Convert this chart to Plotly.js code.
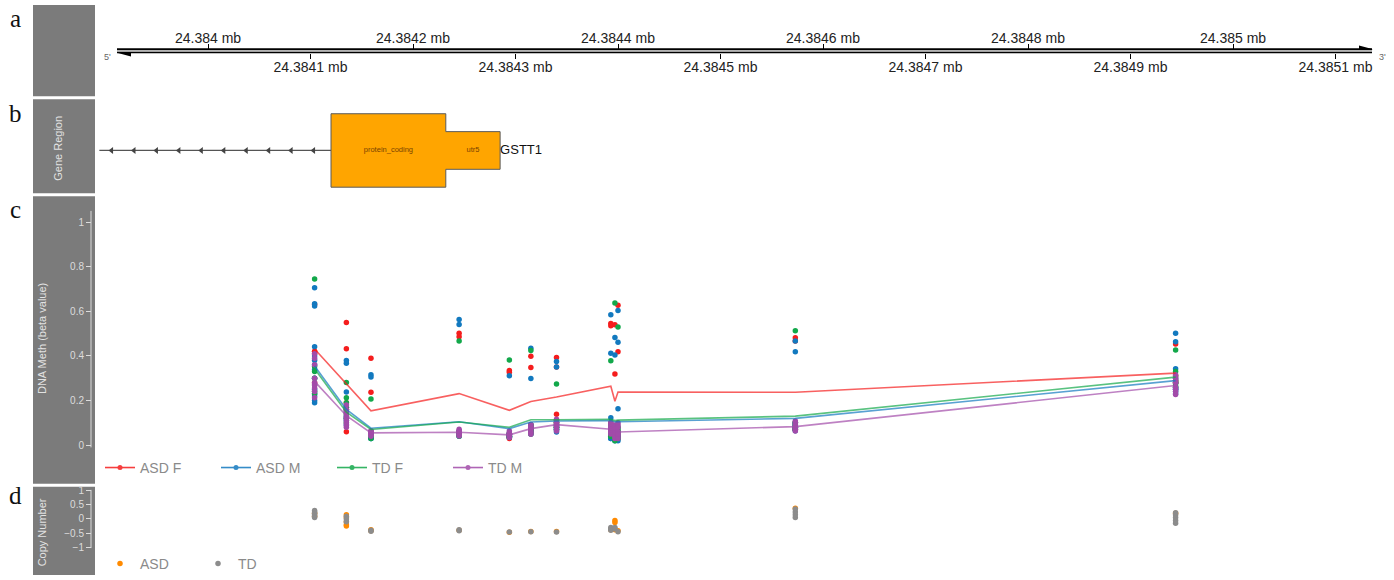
<!DOCTYPE html>
<html><head><meta charset="utf-8">
<script src="https://cdn.plot.ly/plotly-3.0.1.min.js"></script>
<style>html,body{margin:0;padding:0;background:#fff;}#chart{width:1394px;height:580px;}</style>
</head><body><div id="chart"></div>
<script>
// ---------------- data ----------------
const cpgPos = [24384104,24384135,24384159,24384245,24384294,24384315,24384340,24384393,24384397,24384400,24384573,24384944];
const groupNames = ['ASD F','ASD M','TD F','TD M'];
const groupColors = ['#f51d1d','#1279bf','#12a84a','#a24ba9'];
const meanASDF = [0.431,0.275,0.154,0.231,0.156,0.196,0.216,0.264,0.197,0.238,0.237,0.323];
const meanASDM = [0.355,0.160,0.076,0.105,0.074,0.104,0.108,0.110,0.105,0.105,0.120,0.289];
const meanTDF  = [0.342,0.148,0.070,0.104,0.080,0.114,0.114,0.116,0.110,0.112,0.130,0.305];
const meanTDM  = [0.286,0.132,0.055,0.058,0.046,0.074,0.092,0.071,0.059,0.059,0.083,0.267];
const ptsASDF = [[0.63,0.42,0.41,0.28,0.42],[0.55,0.432,0.19,0.16,0.06],[0.39,0.237,0.06,0.05,0.04],[0.501,0.486,0.06,0.05,0.05],[0.335,0.327,0.05,0.04,0.03],[0.399,0.348,0.09,0.08,0.06],[0.393,0.35,0.138,0.10,0.10],[0.545,0.535,0.05,0.10,0.09],[0.54,0.319,0.05,0.04,0.035],[0.627,0.419,0.06,0.05,0.035],[0.481,0.467,0.10,0.07,0.07],[0.453,0.31,0.29,0.28,0.28]];
const ptsASDM = [[0.705,0.634,0.624,0.441,0.40,0.38,0.36,0.338,0.30,0.25,0.19,0.20,0.22,0.23],[0.379,0.367,0.238,0.17,0.15,0.13,0.11,0.09,0.16,0.12],[0.315,0.305,0.05,0.04,0.035,0.03,0.045,0.04,0.05,0.03],[0.563,0.541,0.06,0.05,0.05,0.045,0.04,0.05,0.06,0.055],[0.311,0.05,0.045,0.04,0.035,0.04,0.05,0.045,0.04,0.035],[0.434,0.299,0.09,0.08,0.07,0.06,0.05,0.07,0.08,0.06],[0.375,0.35,0.10,0.09,0.08,0.07,0.059,0.08,0.09,0.07],[0.585,0.412,0.123,0.06,0.05,0.04,0.03,0.05,0.04,0.03],[0.483,0.404,0.06,0.05,0.04,0.03,0.02,0.04,0.05,0.03],[0.604,0.461,0.163,0.06,0.05,0.04,0.03,0.05,0.02,0.04],[0.467,0.419,0.10,0.09,0.08,0.07,0.065,0.08,0.09,0.10],[0.502,0.464,0.342,0.30,0.28,0.26,0.25,0.24,0.23,0.25]];
const ptsTDF = [[0.745,0.352,0.33,0.30,0.241,0.23,0.27],[0.281,0.212,0.19,0.17,0.14,0.12,0.10],[0.207,0.06,0.05,0.045,0.04,0.05,0.03],[0.467,0.06,0.05,0.045,0.05,0.055,0.04],[0.382,0.05,0.045,0.04,0.035,0.04,0.05],[0.424,0.09,0.08,0.07,0.06,0.05,0.07],[0.274,0.11,0.10,0.09,0.08,0.07,0.08],[0.378,0.09,0.08,0.06,0.05,0.04,0.04],[0.637,0.06,0.05,0.04,0.03,0.02,0.04],[0.53,0.08,0.07,0.06,0.05,0.04,0.03],[0.513,0.10,0.09,0.085,0.08,0.07,0.075],[0.427,0.33,0.31,0.29,0.28,0.27,0.26]];
const ptsTDM = [[0.41,0.39,0.36,0.30,0.28,0.256,0.212,0.24,0.27],[0.18,0.16,0.15,0.14,0.13,0.12,0.11,0.10,0.09,0.08],[0.064,0.06,0.055,0.05,0.045,0.04,0.05,0.06],[0.071,0.065,0.06,0.055,0.05,0.045,0.041,0.06],[0.063,0.055,0.05,0.045,0.04,0.034,0.045,0.05],[0.093,0.085,0.08,0.075,0.07,0.06,0.055,0.049],[0.116,0.11,0.10,0.09,0.085,0.08,0.07,0.063],[0.10,0.09,0.08,0.07,0.06,0.05,0.06,0.07],[0.09,0.08,0.07,0.06,0.05,0.04,0.03,0.06],[0.10,0.09,0.08,0.06,0.05,0.04,0.03,0.05],[0.108,0.10,0.09,0.085,0.08,0.075,0.07,0.063],[0.316,0.30,0.29,0.28,0.26,0.25,0.24,0.227]];
const cnGroups = ['ASD','TD'];
const cnColors = ['#ff8a00','#8c8c8c'];
const cnASD = [[0.10,0.20],[0.15,0.05,-0.10,-0.20,-0.25],[-0.42,-0.38],[-0.40],[-0.47],[-0.44],[-0.44],[-0.38],[-0.05,-0.12,-0.38],[-0.42],[0.38],[0.20]];
const cnTD  = [[0.05,0.10,0.15,0.20,0.25,0.30],[0.10,0.0,-0.10],[-0.43,-0.40],[-0.42,-0.38],[-0.46],[-0.45],[-0.46],[-0.30,-0.35,-0.40],[-0.30,-0.35],[-0.45],[0.05,0.15,0.25,0.35],[-0.15,-0.05,0.05,0.15,0.22]];
const topTickVals = [24384000,24384200,24384400,24384600,24384800,24385000];
const topTickText = ['24.384 mb','24.3842 mb','24.3844 mb','24.3846 mb','24.3848 mb','24.385 mb'];
const botTickVals = [24384100,24384300,24384500,24384700,24384900,24385100];
const botTickText = ['24.3841 mb','24.3843 mb','24.3845 mb','24.3847 mb','24.3849 mb','24.3851 mb'];
const methTicks = [0,0.2,0.4,0.6,0.8,1];
const cnTicks = [-1,-0.5,0,0.5,1];
const featStart = [24384120,24384232];
const featEnd = [24384232,24384285];
const featLabel = ['protein_coding','utr5'];
const featHalf = [0.39,0.20];
const geneName = 'GSTT1';
const intronStart = 24383894, intronEnd = 24384120;
const panelLetters = ['a','b','c','d'];

// ---------------- layout helpers ----------------
const W = 1394, H = 580;
const X0PX = 208, BP0 = 24384000, PXPERBP = 1.025;
const xRange = [BP0 - X0PX/PXPERBP, BP0 + (W - X0PX)/PXPERBP];
const px = v => v / W, py = v => 1 - v / H;
const FONT = 'Liberation Sans, Arial, sans-serif';
const geneC = 0.455;
const METH0 = 449, METHK = 225;   // pixel of 0 and px per unit
const CN0 = 523.5, CNK = 28.5;

const traces = [];
const meanSets = [meanASDF, meanASDM, meanTDF, meanTDM];
const ptSets = [ptsASDF, ptsASDM, ptsTDF, ptsTDM];
ptSets.forEach((ps, g) => {
  const xs = [], ys = [];
  ps.forEach((arr, i) => arr.forEach(v => { xs.push(cpgPos[i]); ys.push(v); }));
  traces.push({type:'scatter', mode:'markers', x:xs, y:ys, xaxis:'x', yaxis:'y', showlegend:false, hoverinfo:'skip',
    marker:{color:groupColors[g], size:5.5, line:{width:0}}});
});
meanSets.forEach((m, g) => {
  traces.push({type:'scatter', mode:'lines', x:cpgPos, y:m, xaxis:'x', yaxis:'y', showlegend:false, hoverinfo:'skip',
    line:{color:groupColors[g], width:1.6}, opacity:0.7});
});
groupNames.forEach((n, g) => {
  traces.push({type:'scatter', mode:'lines+markers', x:[null], y:[null], xaxis:'x', yaxis:'y', name:n, legend:'legend',
    line:{color:groupColors[g], width:1.6}, marker:{color:groupColors[g], size:5}, opacity:0.85});
});
[cnASD, cnTD].forEach((ps, g) => {
  const xs = [], ys = [];
  ps.forEach((arr, i) => arr.forEach(v => { xs.push(cpgPos[i]); ys.push(v); }));
  traces.push({type:'scatter', mode:'markers', x:xs, y:ys, xaxis:'x', yaxis:'y3', name:cnGroups[g], legend:'legend2', hoverinfo:'skip',
    marker:{color:cnColors[g], size:5.5}});
});
const gx = [], gy = [];
featStart.forEach((s, i) => { gx.push(s, featEnd[i]); gy.push(geneC + featHalf[i], geneC + featHalf[i]); });
for (let i = featStart.length - 1; i >= 0; i--) { gx.push(featEnd[i], featStart[i]); gy.push(geneC - featHalf[i], geneC - featHalf[i]); }
gx.push(gx[0]); gy.push(gy[0]);
traces.push({type:'scatter', mode:'lines', x:[intronStart, intronEnd], y:[geneC, geneC], xaxis:'x', yaxis:'y2', showlegend:false, hoverinfo:'skip',
  line:{color:'#555', width:1.2}});
const arrX = [];
for (let p = intronEnd - 17; p > intronStart + 5; p -= 21.9) arrX.push(p);
traces.push({type:'scatter', mode:'markers', x:arrX, y:arrX.map(() => geneC), xaxis:'x', yaxis:'y2', showlegend:false, hoverinfo:'skip',
  marker:{symbol:'triangle-left', size:6, color:'#444'}});
traces.push({type:'scatter', mode:'lines', x:gx, y:gy, fill:'toself', fillcolor:'#ffa500', xaxis:'x', yaxis:'y2', showlegend:false, hoverinfo:'skip',
  line:{color:'#5a5a5a', width:1}});
traces.push({type:'scatter', mode:'text', x:featStart.map((s, i) => (s + featEnd[i]) / 2), y:featStart.map(() => geneC), text:featLabel,
  textfont:{family:FONT, size:7.5, color:'#7a4300'}, xaxis:'x', yaxis:'y2', showlegend:false, hoverinfo:'skip'});
traces.push({type:'scatter', mode:'text', x:[featEnd[featEnd.length - 1]], y:[geneC], text:[geneName], textposition:'middle right',
  textfont:{family:FONT, size:13, color:'#111'}, xaxis:'x', yaxis:'y2', showlegend:false, hoverinfo:'skip'});
traces.push({type:'scatter', mode:'markers', x:[null], y:[null], xaxis:'x2', yaxis:'y', showlegend:false, hoverinfo:'skip'});

// ---------------- shapes ----------------
const GRAY = '#7b7b7b';
const panels = [[5,97],[100,195],[198,488],[491,580]];
const shapes = panels.map(p => ({type:'rect', xref:'paper', yref:'paper', x0:px(33), x1:px(95), y0:py(p[1]), y1:py(p[0]), fillcolor:GRAY, line:{width:0}, layer:'below'}));
shapes.push({type:'line', xref:'paper', yref:'paper', x0:px(117), x1:px(1372), y0:py(49.6), y1:py(49.6), line:{color:'#000', width:2}});
shapes.push({type:'line', xref:'paper', yref:'paper', x0:px(117), x1:px(1372), y0:py(51.4), y1:py(51.4), line:{color:'#aaa', width:1}});
shapes.push({type:'line', xref:'paper', yref:'paper', x0:px(117), x1:px(1372), y0:py(53), y1:py(53), line:{color:'#000', width:1.4}});
shapes.push({type:'path', xref:'paper', yref:'paper', path:`M ${px(117)} ${py(53.2)} L ${px(131)} ${py(53.2)} L ${px(131)} ${py(57)} Z`, fillcolor:'#000', line:{width:0}});
shapes.push({type:'path', xref:'paper', yref:'paper', path:`M ${px(1373)} ${py(49.6)} L ${px(1359)} ${py(49.6)} L ${px(1359)} ${py(45.8)} Z`, fillcolor:'#000', line:{width:0}});
shapes.push({type:'line', xref:'paper', yref:'y', x0:px(91), x1:px(91), y0:-0.01, y1:1.05, line:{color:'#dcdcdc', width:1}});
shapes.push({type:'line', xref:'paper', yref:'y3', x0:px(91), x1:px(91), y0:-1.03, y1:1.03, line:{color:'#dcdcdc', width:1}});

// ---------------- annotations ----------------
const ann = [];
const letterY = [19, 114, 211, 500];
panelLetters.forEach((l, i) => ann.push({xref:'paper', yref:'paper', x:px(15), y:py(letterY[i]), text:l, showarrow:false,
  font:{family:'Liberation Serif, Times New Roman, serif', size:25, color:'#111'}, xanchor:'center', yanchor:'middle'}));
const titles = [['Gene Region', 58, 149], ['DNA Meth (beta value)', 42, 342], ['Copy Number', 42, 537]];
titles.forEach(t => ann.push({xref:'paper', yref:'paper', x:px(t[1]), y:py(t[2]), text:t[0], textangle:-90, showarrow:false,
  font:{family:FONT, size:11, color:'#e2e2e2'}, xanchor:'center', yanchor:'middle'}));
ann.push({xref:'paper', yref:'paper', x:px(108), y:py(58), text:"5'", showarrow:false, font:{family:FONT, size:9, color:'#666'}, xanchor:'center', yanchor:'middle'});
ann.push({xref:'paper', yref:'paper', x:px(1382), y:py(57), text:"3'", showarrow:false, font:{family:FONT, size:9, color:'#666'}, xanchor:'center', yanchor:'middle'});

const layout = {
  width:W, height:H, margin:{l:0, r:0, t:0, b:0}, paper_bgcolor:'#fff', plot_bgcolor:'rgba(0,0,0,0)',
  font:{family:FONT},
  xaxis:{domain:[0,1], range:xRange, anchor:'free', position:py(49.2), side:'top', showgrid:false, zeroline:false, showline:false,
    ticks:'outside', ticklen:5, tickcolor:'#000', tickwidth:1, tickmode:'array', tickvals:topTickVals, ticktext:topTickText,
    ticklabelstandoff:-5, tickfont:{family:FONT, size:14, color:'#222'}},
  xaxis2:{overlaying:'x', range:xRange, anchor:'free', position:py(53.4), side:'bottom', showgrid:false, zeroline:false, showline:false,
    ticks:'outside', ticklen:5, tickcolor:'#000', tickwidth:1, tickmode:'array', tickvals:botTickVals, ticktext:botTickText,
    ticklabelstandoff:-4, tickfont:{family:FONT, size:14, color:'#222'}},
  yaxis:{domain:[py(488), py(198)], range:[(METH0-488)/METHK, (METH0-198)/METHK], anchor:'free', position:px(91), showgrid:false, zeroline:false, showline:false,
    ticks:'outside', ticklen:5, tickcolor:'#dcdcdc', tickmode:'array', tickvals:methTicks, tickfont:{family:FONT, size:10, color:'#dcdcdc'}},
  yaxis2:{domain:[py(195), py(100)], range:[0,1], visible:false},
  yaxis3:{domain:[0, py(491)], range:[(CN0-580)/CNK, (CN0-491)/CNK], anchor:'free', position:px(91), showgrid:false, zeroline:false, showline:false,
    ticks:'outside', ticklen:5, tickcolor:'#dcdcdc', tickmode:'array', tickvals:cnTicks, tickfont:{family:FONT, size:10, color:'#dcdcdc'}},
  legend:{orientation:'h', x:px(100), xanchor:'left', y:py(472), yanchor:'middle', entrywidth:71, entrywidthmode:'pixels', itemwidth:30,
    font:{family:FONT, size:14, color:'#8a8a8a'}, bgcolor:'rgba(0,0,0,0)', borderwidth:0},
  legend2:{orientation:'h', x:px(100), xanchor:'left', y:py(569), yanchor:'middle', entrywidth:53, entrywidthmode:'pixels', itemwidth:30,
    font:{family:FONT, size:14, color:'#8a8a8a'}, bgcolor:'rgba(0,0,0,0)', borderwidth:0},
  shapes:shapes, annotations:ann, showlegend:true
};
Plotly.newPlot('chart', traces, layout, {displayModeBar:false, staticPlot:true});
</script></body></html>
